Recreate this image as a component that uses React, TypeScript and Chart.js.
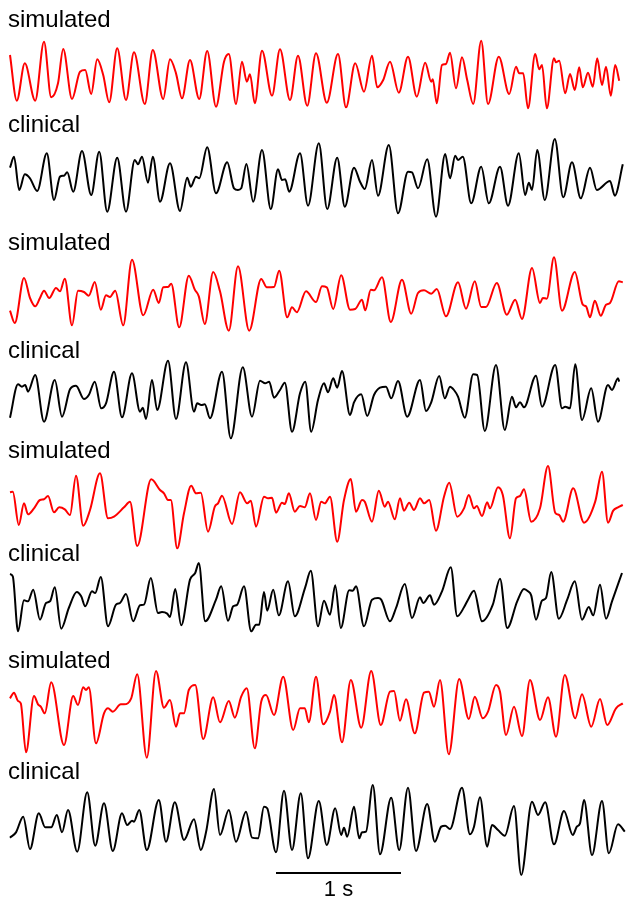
import React, { useEffect, useRef } from "react";
import { Chart, registerables } from "chart.js";

Chart.register(...registerables);

// x values: sample index (312.5 samples per second); y values: trace deflection (arbitrary units, downward positive)
const SAMPLES_PER_SECOND = 312.5;
const SCALE_BAR_START = 690; // sample index where the 1 s bar starts
const SCALE_BAR_LEVEL = 294; // deflection level of the bar in the last panel
const SCALE_BAR_LABEL = "1 s";

const TRACE_LABELS = ["simulated", "clinical", "simulated", "clinical", "simulated", "clinical", "simulated", "clinical"];

const SIM_1: number[][] = [
  [25,75],[42,212],[62,100],[88,212],[110,35],[128,202],[145,160],[158,57],[180,207],[200,125],[213,120],[228,192],
  [243,88],[258,135],[273,217],[293,55],[315,210],[335,67],[362,222],[382,60],[408,207],[425,88],[440,130],[455,205],
  [475,90],[498,207],[518,63],[540,230],[560,95],[572,72],[590,222],[605,95],[617,155],[625,133],[637,220],[655,62],
  [680,197],[700,58],[725,210],[745,77],[768,227],[790,70],[817,218],[845,72],[865,232],[888,100],[910,185],[930,77],
  [943,172],[958,150],[975,95],[997,188],[1020,80],[1042,200],[1063,98],[1078,155],[1082,148],[1092,220],[1105,105],
  [1115,102],[1125,68],[1140,175],[1155,82],[1168,150],[1183,222],[1203,32],[1220,222],[1247,80],[1273,192],[1290,110],
  [1298,130],[1308,130],[1320,235],[1338,72],[1348,118],[1355,105],[1367,235],[1385,85],[1390,97],[1398,92],[1413,190],
  [1425,132],[1437,180],[1448,112],[1457,172],[1470,128],[1482,170],[1493,85],[1505,165],[1515,110],[1527,197],[1538,105],[1548,152]
];

const CLIN_1: number[][] = [
  [25,98],[35,65],[48,165],[62,118],[75,130],[93,168],[117,55],[135,195],[150,125],[160,122],[168,112],[183,170],
  [205,48],[228,180],[248,50],[268,230],[293,68],[315,230],[337,75],[345,88],[355,65],[370,143],[382,65],[400,200],
  [425,85],[450,228],[468,128],[477,155],[490,125],[498,130],[518,37],[540,175],[568,82],[585,160],[595,165],[603,160],
  [616,87],[633,200],[655,45],[677,222],[695,103],[705,135],[713,133],[723,170],[750,55],[770,212],[797,25],[818,222],
  [843,68],[862,215],[885,98],[900,140],[912,162],[930,75],[945,182],[972,30],[995,235],[1020,110],[1030,112],[1045,160],
  [1068,73],[1090,245],[1113,57],[1125,130],[1138,62],[1145,75],[1157,65],[1178,205],[1203,95],[1222,205],[1250,95],
  [1270,212],[1297,55],[1313,180],[1322,143],[1330,165],[1343,45],[1362,195],[1387,12],[1408,187],[1430,82],[1452,190],
  [1475,98],[1492,165],[1525,138],[1537,182],[1557,88]
];

const SIM_2: number[][] = [
  [25,188],[37,225],[60,90],[75,150],[88,175],[100,150],[110,128],[123,150],[140,120],[150,130],[162,92],[180,232],
  [195,128],[210,132],[222,143],[237,102],[252,185],[265,142],[275,147],[288,128],[308,232],[330,35],[358,202],[383,125],
  [397,165],[408,118],[420,117],[428,107],[448,238],[472,83],[487,125],[497,145],[512,228],[533,72],[550,130],[572,248],
  [595,55],[623,248],[653,93],[667,118],[685,117],[698,68],[718,208],[730,178],[742,193],[765,130],[790,162],[805,115],
  [817,118],[833,183],[853,82],[875,185],[888,183],[905,155],[913,187],[927,125],[935,127],[955,88],[977,222],[1005,95],
  [1028,197],[1045,135],[1060,127],[1078,137],[1092,123],[1115,205],[1145,103],[1165,182],[1187,100],[1203,177],[1215,177],
  [1242,105],[1267,200],[1288,155],[1305,213],[1330,60],[1350,165],[1357,150],[1367,152],[1385,28],[1405,188],[1437,72],
  [1457,170],[1465,175],[1475,208],[1487,158],[1502,203],[1515,170],[1525,165],[1547,100],[1557,103]
];

const CLIN_2: number[][] = [
  [25,188],[45,88],[55,95],[63,90],[70,110],[88,60],[110,200],[137,75],[155,185],[175,103],[190,92],[210,132],
  [222,120],[237,80],[253,160],[265,145],[285,50],[305,187],[330,55],[350,170],[357,158],[365,192],[380,75],[393,165],
  [420,17],[440,192],[465,22],[485,170],[493,145],[503,150],[512,148],[525,190],[555,50],[577,250],[607,37],[630,185],
  [650,77],[663,85],[673,80],[685,128],[700,105],[712,83],[730,230],[750,115],[763,80],[778,230],[795,135],[810,85],
  [820,112],[833,70],[843,98],[855,48],[875,180],[885,142],[903,118],[918,183],[935,120],[950,98],[965,95],[978,130],
  [995,78],[1018,185],[1050,75],[1065,168],[1078,142],[1098,63],[1112,130],[1125,95],[1135,105],[1145,125],[1162,188],
  [1183,58],[1193,60],[1212,228],[1240,30],[1262,225],[1280,125],[1290,157],[1300,142],[1310,157],[1340,62],[1355,155],
  [1388,30],[1405,160],[1413,155],[1425,160],[1438,28],[1455,195],[1478,100],[1495,200],[1520,90],[1530,105],[1545,70],[1548,80]
];

const SIM_3: number[][] = [
  [25,97],[32,95],[47,195],[60,130],[70,163],[85,145],[100,120],[110,118],[120,108],[135,157],[148,142],[162,148],
  [175,165],[190,47],[208,197],[225,150],[250,40],[270,175],[285,170],[310,142],[325,125],[343,258],[378,58],[400,90],
  [410,100],[420,120],[427,120],[443,265],[460,160],[478,77],[490,100],[502,98],[520,215],[537,140],[545,130],[555,107],
  [580,192],[600,97],[618,130],[627,122],[640,200],[660,110],[670,115],[680,113],[690,158],[705,128],[712,132],[722,100],
  [737,155],[750,138],[762,142],[775,100],[790,180],[803,125],[812,130],[825,110],[843,245],[860,120],[877,57],[890,155],
  [905,120],[912,125],[930,185],[947,92],[962,140],[970,125],[987,178],[1000,115],[1010,152],[1023,128],[1035,150],
  [1050,115],[1060,130],[1073,120],[1090,212],[1110,110],[1123,68],[1143,170],[1160,145],[1172,105],[1185,145],[1192,138],
  [1205,168],[1218,127],[1225,145],[1245,82],[1257,105],[1275,235],[1290,115],[1300,108],[1310,88],[1328,185],[1350,145],
  [1370,18],[1388,158],[1398,165],[1408,185],[1433,85],[1460,188],[1488,125],[1505,35],[1520,188],[1533,152],[1545,142],[1557,135]
];

const CLIN_3: number[][] = [
  [25,48],[32,55],[45,220],[60,127],[70,130],[83,95],[100,185],[115,135],[125,130],[137,88],[153,212],[172,150],
  [192,102],[203,115],[213,145],[230,100],[238,105],[252,57],[270,205],[290,140],[300,135],[315,108],[333,190],[350,142],
  [360,140],[377,60],[395,165],[405,162],[418,167],[425,177],[438,93],[453,202],[475,65],[488,45],[497,15],[513,190],
  [540,125],[553,85],[570,188],[583,145],[593,140],[610,85],[628,220],[640,200],[648,200],[660,102],[668,158],[683,95],
  [697,172],[720,70],[737,175],[763,88],[777,38],[795,205],[810,128],[825,170],[838,82],[852,210],[873,97],[882,98],
  [890,85],[910,205],[930,125],[945,120],[953,125],[975,190],[990,150],[1012,78],[1030,180],[1050,118],[1058,135],
  [1075,112],[1085,140],[1105,100],[1127,28],[1143,175],[1160,148],[1170,125],[1185,98],[1205,190],[1232,140],[1250,62],
  [1268,210],[1293,130],[1310,93],[1320,100],[1328,112],[1340,185],[1355,128],[1365,120],[1378,42],[1397,182],[1418,125],
  [1437,70],[1455,185],[1472,147],[1483,172],[1500,80],[1515,182],[1530,130],[1555,45]
];

const SIM_4: number[][] = [
  [25,100],[35,83],[45,108],[52,115],[65,262],[85,93],[95,118],[102,125],[112,145],[128,52],[160,240],[183,93],
  [195,120],[208,67],[215,75],[222,67],[240,235],[260,145],[270,130],[282,140],[302,118],[310,118],[328,100],[343,28],
  [367,278],[390,18],[410,128],[425,105],[440,185],[450,145],[460,145],[472,75],[488,60],[508,222],[533,97],[550,172],
  [572,108],[587,158],[603,95],[617,70],[637,250],[653,110],[665,90],[685,150],[708,35],[733,195],[750,130],[762,130],
  [772,172],[790,35],[808,178],[825,140],[835,90],[855,232],[877,45],[903,188],[928,18],[952,180],[975,80],[985,78],
  [1000,167],[1015,103],[1037,205],[1060,83],[1072,80],[1085,125],[1100,45],[1122,268],[1148,42],[1172,162],[1187,95],
  [1207,160],[1220,140],[1240,60],[1250,80],[1265,210],[1285,125],[1305,213],[1325,45],[1350,165],[1370,97],[1390,215],
  [1412,30],[1438,160],[1455,88],[1478,185],[1500,102],[1518,180],[1540,130],[1557,115]
];

const CLIN_4: number[][] = [
  [25,188],[40,172],[58,125],[75,222],[97,115],[113,157],[128,157],[142,120],[155,172],[170,105],[193,230],[218,52],
  [238,212],[260,85],[282,228],[305,115],[318,150],[330,137],[335,140],[348,105],[367,225],[397,75],[415,200],[437,82],
  [460,195],[485,133],[502,225],[515,172],[535,42],[550,180],[572,105],[590,200],[615,110],[630,188],[645,190],[660,95],
  [668,100],[690,232],[710,47],[730,225],[752,55],[770,250],[797,78],[817,210],[838,100],[853,180],[860,158],[868,185],
  [885,95],[898,190],[905,172],[915,170],[932,30],[950,238],[978,68],[998,225],[1020,38],[1040,228],[1068,87],[1087,200],
  [1103,155],[1113,152],[1125,162],[1155,38],[1175,178],[1185,155],[1200,67],[1218,215],[1230,150],[1245,165],[1262,182],
  [1285,93],[1303,300],[1330,80],[1345,120],[1363,82],[1385,208],[1410,108],[1432,180],[1442,155],[1450,145],[1460,75],
  [1480,240],[1505,78],[1522,235],[1545,148],[1562,170]
];

const TRACES = [SIM_1, CLIN_1, SIM_2, CLIN_2, SIM_3, CLIN_3, SIM_4, CLIN_4];

// layout (px): panel top and height, label baseline
const PANELS = [
  { top: 30, h: 80 },
  { top: 135, h: 85 },
  { top: 248, h: 88 },
  { top: 355, h: 90 },
  { top: 460, h: 92 },
  { top: 558, h: 88 },
  { top: 665, h: 100 },
  { top: 775, h: 129 },
];
const LABEL_BASELINES = [27, 132, 250, 358, 458, 561, 668, 779];
const X_UNITS = 1565; // sample units across the 626 px width
const Y_UNITS_PER_PX = 3;

function Trace({ idx }: { idx: number }) {
  const ref = useRef<HTMLCanvasElement | null>(null);
  const panel = PANELS[idx];
  useEffect(() => {
    if (!ref.current) return;
    const isLast = idx === TRACES.length - 1;
    const color = idx % 2 === 0 ? "#ff0000" : "#000000";
    const scaleBar = {
      id: "scaleBar",
      afterDraw(chart: any) {
        if (!isLast) return;
        const { ctx, scales } = chart;
        const x1 = scales.x.getPixelForValue(SCALE_BAR_START);
        const x2 = scales.x.getPixelForValue(SCALE_BAR_START + SAMPLES_PER_SECOND);
        const y = scales.y.getPixelForValue(SCALE_BAR_LEVEL);
        ctx.save();
        ctx.strokeStyle = "#000";
        ctx.lineWidth = 2;
        ctx.beginPath();
        ctx.moveTo(x1, y);
        ctx.lineTo(x2, y);
        ctx.stroke();
        ctx.restore();
      },
    };
    const chart = new Chart(ref.current, {
      type: "line",
      data: {
        datasets: [
          {
            data: TRACES[idx].map(([x, y]) => ({ x, y })),
            borderColor: color,
            borderWidth: 2,
            pointRadius: 0,
            cubicInterpolationMode: "monotone",
            fill: false,
            clip: false as any,
          },
        ],
      },
      options: {
        responsive: false,
        animation: false,
        devicePixelRatio: 1,
        layout: { padding: 0 },
        plugins: { legend: { display: false }, tooltip: { enabled: false }, title: { display: false } },
        events: [],
        scales: {
          x: { type: "linear", min: 0, max: X_UNITS, display: false },
          y: { type: "linear", min: 0, max: panel.h * Y_UNITS_PER_PX, reverse: true, display: false },
        },
      },
      plugins: [scaleBar],
    });
    return () => chart.destroy();
  }, [idx]);
  return (
    <canvas
      ref={ref}
      width={626}
      height={panel.h}
      style={{ position: "absolute", left: 0, top: panel.top, width: 626, height: panel.h }}
    />
  );
}

const FONT = '"Liberation Sans", Arial, Helvetica, sans-serif';

export default function App() {
  return (
    <div style={{ position: "absolute", left: 0, top: 0, width: 626, height: 904, background: "#fff", overflow: "hidden" }}>
      {TRACES.map((_, i) => (
        <Trace key={"t" + i} idx={i} />
      ))}
      {TRACE_LABELS.map((label, i) => (
        <div
          key={"l" + i}
          style={{
            position: "absolute",
            left: 8,
            top: LABEL_BASELINES[i] - 20.3,
            fontFamily: FONT,
            fontSize: 24,
            lineHeight: "24px",
            color: "#000",
            whiteSpace: "nowrap",
          }}
        >
          {label}
        </div>
      ))}
      <div
        style={{
          position: "absolute",
          left: 238.5,
          width: 200,
          textAlign: "center",
          top: 878.4,
          fontFamily: FONT,
          fontSize: 22,
          lineHeight: "22px",
          color: "#000",
        }}
      >
        {SCALE_BAR_LABEL}
      </div>
    </div>
  );
}
